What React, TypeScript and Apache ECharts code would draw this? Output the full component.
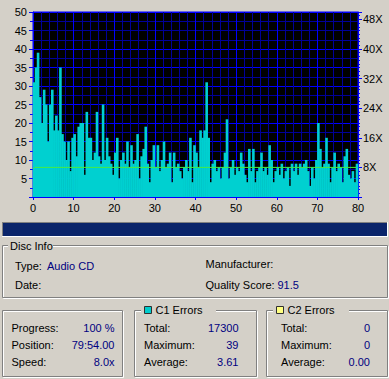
import React, { useEffect, useRef } from "react";
import * as echarts from "echarts";

// C1 errors per 0.5 minute sample (minutes 0 .. 79.5)
const c1Errors: number[] = [
  31, 35, 39, 27, 20, 29, 25, 15, 25, 29, 18, 22, 18, 35, 17, 15,
  10, 15, 7, 16, 17, 11, 19, 20, 20, 6, 23, 16, 16, 10, 12, 23,
  11, 9, 25, 10, 16, 11, 9, 6, 12, 16, 5, 10, 12, 9, 15, 8,
  14, 9, 10, 17, 5, 11, 13, 19, 9, 4, 10, 14, 8, 14, 7, 10,
  15, 8, 9, 12, 4, 12, 8, 9, 7, 5, 8, 10, 7, 16, 4, 14,
  12, 8, 18, 16, 18, 31, 16, 4, 9, 10, 7, 8, 5, 8, 12, 21,
  5, 8, 10, 6, 8, 7, 12, 9, 6, 4, 13, 7, 13, 4, 7, 8,
  12, 7, 8, 6, 14, 10, 4, 7, 8, 6, 9, 5, 7, 8, 3, 9,
  7, 9, 6, 9, 8, 9, 10, 7, 3, 8, 5, 10, 20, 13, 8, 9,
  16, 9, 4, 8, 12, 7, 9, 8, 4, 11, 13, 6, 5, 7, 4, 9,
];
const sampleStep = 0.5;

// read speed (X) line
const speedMinutes = [0, 0.4, 79.6];
const speedValues = [7.6, 8, 8];

// axis
const xMax = 80;
const yMax = 50;

// panels
const discInfoLeft = [
  { label: "Type:", value: "Audio CD" },
  { label: "Date:", value: "" },
];
const discInfoRight = [
  { label: "Manufacturer:", value: "" },
  { label: "Quality Score:", value: "91.5" },
];
const statusLabels = ["Progress:", "Position:", "Speed:"];
const statusValues = ["100 %", "79:54.00", "8.0x"];
const c1Labels = ["Total:", "Maximum:", "Average:"];
const c1Values = ["17300", "39", "3.61"];
const c2Labels = ["Total:", "Maximum:", "Average:"];
const c2Values = ["0", "0", "0.00"];

const BG = "#d4d0c8";
const BRIGHT = "#0000ff";
const DIM = "#00009a";
const NAVY = "#000080";
const FONT = '11px "Liberation Sans", Arial, sans-serif';

function txt(text: string, x: number, y: number, fill = "#000", align = "left") {
  return {
    type: "text",
    x,
    y,
    z: 10,
    style: {
      text,
      font: FONT,
      fill,
      textAlign: align,
      align,
      textVerticalAlign: "middle",
      verticalAlign: "middle",
    },
  };
}

function etched(x: number, y: number, w: number, h: number) {
  return [
    {
      type: "rect",
      z: 5,
      shape: { x: x + 1.5, y: y + 1.5, width: w - 1, height: h - 1 },
      style: { fill: "none", stroke: "#ffffff", lineWidth: 1 },
    },
    {
      type: "rect",
      z: 6,
      shape: { x: x + 0.5, y: y + 0.5, width: w - 1, height: h - 1 },
      style: { fill: "none", stroke: "#808080", lineWidth: 1 },
    },
  ];
}

function gap(x: number, y: number, w: number) {
  return {
    type: "rect",
    z: 7,
    shape: { x, y: y - 3, width: w, height: 7 },
    style: { fill: BG },
  };
}

export default function App() {
  const ref = useRef<HTMLDivElement>(null);

  useEffect(() => {
    document.body.style.margin = "0";
    if (!ref.current) return;
    const chart = echarts.init(ref.current, null, { renderer: "svg" });

    const barData = c1Errors.map((v, i) => [i * sampleStep + sampleStep / 2, v]);
    const speedData = speedMinutes.map((m, i) => [m, speedValues[i]]);

    const yMajorColors: string[] = [];
    for (let v = 0; v <= yMax; v += 5) yMajorColors.push(v === 45 ? DIM : BRIGHT);

    const rowY = [327.5, 345, 362];

    const graphics: any[] = [
      // progress bar
      { type: "rect", z: 5, shape: { x: 2, y: 222, width: 386, height: 15 }, style: { fill: "#ffffff" } },
      { type: "rect", z: 6, shape: { x: 2, y: 222, width: 385, height: 14 }, style: { fill: "#808080" } },
      { type: "rect", z: 7, shape: { x: 3, y: 223, width: 384, height: 13 }, style: { fill: "#0a246a" } },
      // disc info
      ...etched(2, 245, 386, 53),
      gap(8, 246, 45),
      txt("Disc Info", 10, 246),
      txt(discInfoLeft[0].label, 15, 266),
      txt(discInfoLeft[0].value, 47, 266, NAVY),
      txt(discInfoLeft[1].label, 15, 284.5),
      txt(discInfoRight[0].label, 205.5, 263.5),
      txt(discInfoRight[1].label, 205.5, 284.5),
      txt(discInfoRight[1].value, 277.5, 284.5, NAVY),
      // status box
      ...etched(2, 310, 121, 67),
      // c1 box
      ...etched(134, 310, 123, 67),
      gap(141, 310, 75),
      {
        type: "rect",
        z: 8,
        shape: { x: 144.5, y: 306.5, width: 7, height: 7 },
        style: { fill: "#00cccc", stroke: "#303030", lineWidth: 1 },
      },
      txt("C1 Errors", 155.5, 310),
      // c2 box
      ...etched(266, 310, 122, 67),
      gap(273, 310, 76),
      {
        type: "rect",
        z: 8,
        shape: { x: 276.5, y: 306.5, width: 7, height: 7 },
        style: { fill: "#ffff80", stroke: "#303030", lineWidth: 1 },
      },
      txt("C2 Errors", 287.5, 310),
    ];
    statusLabels.forEach((l, i) => {
      graphics.push(txt(l, 11.5, rowY[i]));
      graphics.push(txt(statusValues[i], 114.5, rowY[i], NAVY, "right"));
    });
    c1Labels.forEach((l, i) => {
      graphics.push(txt(l, 144, rowY[i]));
      graphics.push(txt(c1Values[i], 238.5, rowY[i], NAVY, "right"));
    });
    c2Labels.forEach((l, i) => {
      graphics.push(txt(l, 281, rowY[i]));
      graphics.push(txt(c2Values[i], 370, rowY[i], NAVY, "right"));
    });

    const labelStyle = {
      color: "#000",
      fontSize: 11,
      fontFamily: '"Liberation Sans", Arial, sans-serif',
    };

    chart.setOption({
      animation: false,
      backgroundColor: BG,
      grid: {
        left: 33,
        top: 12,
        right: 31,
        bottom: 182,
        show: true,
        backgroundColor: "#000000",
        borderColor: BRIGHT,
        borderWidth: 1,
        containLabel: false,
        outerBoundsMode: "none",
      },
      xAxis: {
        type: "value",
        min: 0,
        max: xMax,
        interval: 10,
        axisLine: { show: true, lineStyle: { color: BRIGHT, width: 1 } },
        axisTick: { show: true, length: 3, lineStyle: { color: BRIGHT } },
        minorTick: { show: false, splitNumber: 5 },
        axisLabel: { ...labelStyle, margin: 5 },
        splitLine: { show: true, lineStyle: { color: BRIGHT, width: 1 } },
        minorSplitLine: { show: true, lineStyle: { color: DIM, width: 1 } },
      },
      yAxis: [
        {
          type: "value",
          min: 0,
          max: yMax,
          interval: 5,
          axisLine: { show: true, lineStyle: { color: BRIGHT, width: 1 } },
          axisTick: { show: true, length: 4, lineStyle: { color: BRIGHT } },
          minorTick: { show: true, splitNumber: 2, length: 3, lineStyle: { color: BRIGHT } },
          axisLabel: {
            ...labelStyle,
            margin: 6,
            formatter: (v: number) => (v === 0 ? "" : String(v)),
          },
          splitLine: { show: true, lineStyle: { color: yMajorColors, width: 1 } },
          minorSplitLine: { show: true, lineStyle: { color: DIM, width: 1 } },
        },
        {
          type: "value",
          position: "right",
          min: 0,
          max: yMax,
          interval: 8,
          axisLine: { show: true, onZero: false, lineStyle: { color: BRIGHT, width: 1 } },
          axisTick: { show: true, length: 4, lineStyle: { color: BRIGHT } },
          minorTick: { show: true, splitNumber: 8, length: 2, lineStyle: { color: BRIGHT } },
          axisLabel: {
            ...labelStyle,
            margin: 5,
            formatter: (v: number) => (v > 0 && v % 8 === 0 ? v + "X" : ""),
          },
          splitLine: { show: false },
        },
      ],
      series: [
        {
          type: "bar",
          data: barData,
          barWidth: 2.6,
          itemStyle: { color: "#00d0d0" },
          yAxisIndex: 0,
          z: 2,
        },
        {
          type: "line",
          data: speedData,
          yAxisIndex: 1,
          symbol: "none",
          lineStyle: { color: "#44ee44", width: 1 },
          z: 3,
        },
      ],
      graphic: { elements: graphics },
    });

    return () => chart.dispose();
  }, []);

  return (
    <div
      ref={ref}
      style={{ position: "fixed", left: 0, top: 0, width: 389, height: 379 }}
    />
  );
}
